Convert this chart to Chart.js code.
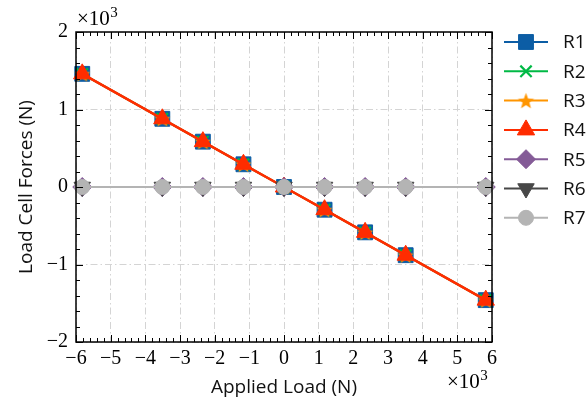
<!DOCTYPE html>
<html>
<head>
<meta charset="utf-8">
<script src="https://cdn.jsdelivr.net/npm/chart.js@4/dist/chart.umd.min.js"></script>
<style>
  html, body { margin: 0; padding: 0; background: #fff; }
  #wrap { width: 588px; height: 400px; }
</style>
</head>
<body>
<div id="wrap"><canvas id="chart" width="588" height="400"></canvas></div>
<script>
// applied load (N) and load cell readings (N) for each cell
const appliedLoad = [-5820, -3510, -2340, -1170, 0, 1170, 2340, 3510, 5820];
const r1 = [1460, 880, 585, 293, 0, -293, -585, -880, -1460];
const r2 = [1460, 880, 585, 293, 0, -293, -585, -880, -1460];
const r3 = [1460, 880, 585, 293, 0, -293, -585, -880, -1460];
const r4 = [1460, 880, 585, 293, 0, -293, -585, -880, -1460];
const r5 = [0, 0, 0, 0, 0, 0, 0, 0, 0];
const r6 = [0, 0, 0, 0, 0, 0, 0, 0, 0];
const r7 = [0, 0, 0, 0, 0, 0, 0, 0, 0];
const seriesNames = ["R1", "R2", "R3", "R4", "R5", "R6", "R7"];
const seriesValues = [r1, r2, r3, r4, r5, r6, r7];

const xMin = -6000, xMax = 6000, yMin = -2000, yMax = 2000;
const majorStep = 1000, minorStep = 200;

const serif = "'Liberation Serif', 'DejaVu Serif', serif";
const sans = "'Open Sans', 'DejaVu Sans', sans-serif";

// filled five-point star, used as a point style image
function starImage(color, r) {
    const c = document.createElement("canvas");
    const s = Math.ceil(r * 2 + 2);
    c.width = s;
    c.height = s;
    const g = c.getContext("2d");
    g.fillStyle = color;
    g.beginPath();
    for (let i = 0; i < 10; i++) {
        const rad = i % 2 === 0 ? r : r * 0.42;
        const a = -Math.PI / 2 + (i * Math.PI) / 5;
        const px = s / 2 + rad * Math.cos(a);
        const py = s / 2 + rad * Math.sin(a) + r * 0.1;
        if (i === 0) g.moveTo(px, py);
        else g.lineTo(px, py);
    }
    g.closePath();
    g.fill();
    return c;
}

const styles = [
    { color: "#0C5DA5", pointStyle: "rect", radius: 10.5, rotation: 0 },
    { color: "#00B945", pointStyle: "crossRot", radius: 8, rotation: 0 },
    { color: "#FF9500", pointStyle: starImage("#FF9500", 8.5), radius: 8, rotation: 0 },
    { color: "#FF2C00", pointStyle: "triangle", radius: 10, rotation: 0 },
    { color: "#845B97", pointStyle: "rectRot", radius: 9.5, rotation: 0 },
    { color: "#474747", pointStyle: "triangle", radius: 9.5, rotation: 180 },
    { color: "#b4b4b4", pointStyle: "circle", radius: 7.5, rotation: 0 },
];

const fmt = (v) => {
    const n = Math.round(v / 1000);
    return n < 0 ? "\u2212" + Math.abs(n) : String(n);
};

// inward major/minor ticks on all four sides, frame, multiplier labels, legend
const framePlugin = {
    id: "frame",
    afterDraw(chart) {
        const { ctx, chartArea: a, scales } = chart;
        const xs = scales.x, ys = scales.y;
        ctx.save();
        ctx.strokeStyle = "#000";
        ctx.lineWidth = 1;
        for (let v = xMin; v <= xMax; v += minorStep) {
            const px = Math.round(xs.getPixelForValue(v)) + 0.5;
            const len = v % majorStep === 0 ? 7 : 4;
            ctx.beginPath();
            ctx.moveTo(px, a.bottom);
            ctx.lineTo(px, a.bottom - len);
            ctx.moveTo(px, a.top);
            ctx.lineTo(px, a.top + len);
            ctx.stroke();
        }
        for (let v = yMin; v <= yMax; v += minorStep) {
            const py = Math.round(ys.getPixelForValue(v)) + 0.5;
            const len = v % majorStep === 0 ? 7 : 4;
            ctx.beginPath();
            ctx.moveTo(a.left, py);
            ctx.lineTo(a.left + len, py);
            ctx.moveTo(a.right, py);
            ctx.lineTo(a.right - len, py);
            ctx.stroke();
        }
        ctx.lineWidth = 1.5;
        ctx.strokeRect(a.left, a.top, a.right - a.left, a.bottom - a.top);

        // x10^3 multipliers
        const mult = (x, y) => {
            ctx.fillStyle = "#000";
            ctx.textBaseline = "alphabetic";
            ctx.textAlign = "left";
            ctx.font = "21px " + serif;
            ctx.fillText("\u00d710", x, y);
            const w = ctx.measureText("\u00d710").width;
            ctx.font = "15px " + serif;
            ctx.fillText("3", x + w + 0.5, y - 8);
        };
        mult(a.left + 1, a.top - 7);
        mult(a.right - 45, a.bottom + 46);

        // legend with line and marker
        const lx0 = a.right + 12, lx1 = a.right + 56, tx = a.right + 71;
        chart.data.datasets.forEach((ds, i) => {
            const y = a.top + 10 + i * 29.3;
            ctx.strokeStyle = ds.borderColor;
            ctx.lineWidth = 2;
            ctx.beginPath();
            ctx.moveTo(lx0, y);
            ctx.lineTo(lx1, y);
            ctx.stroke();
            ctx.fillStyle = ds.pointBackgroundColor;
            ctx.strokeStyle = ds.pointBorderColor;
            ctx.lineWidth = ds.pointBorderWidth;
            Chart.helpers.drawPoint(ctx, {
                pointStyle: ds.pointStyle,
                radius: ds.pointRadius,
                rotation: ds.pointRotation,
                borderWidth: ds.pointBorderWidth,
            }, (lx0 + lx1) / 2, y);
            ctx.fillStyle = "#111";
            ctx.font = "19px " + sans;
            ctx.textAlign = "left";
            ctx.textBaseline = "middle";
            ctx.fillText(ds.label, tx, y + 1);
        });
        ctx.restore();
    },
};

const datasets = seriesNames.map((name, i) => {
    const st = styles[i];
    return {
        label: name,
        data: appliedLoad.map((x, j) => ({ x: x, y: seriesValues[i][j] })),
        borderColor: st.color,
        backgroundColor: st.color,
        borderWidth: i === 3 ? 2.5 : 2,
        pointStyle: st.pointStyle,
        pointRadius: st.radius,
        pointRotation: st.rotation,
        pointBackgroundColor: st.color,
        pointBorderColor: st.color,
        pointBorderWidth: st.pointStyle === "crossRot" ? 2.2 : 1,
        order: seriesNames.length - i,
        tension: 0,
        clip: false,
    };
});

const gridOpts = {
    color: "#d4d4d4",
    lineWidth: 1,
    drawTicks: false,
};

new Chart(document.getElementById("chart"), {
    type: "line",
    data: { datasets: datasets },
    options: {
        responsive: false,
        animation: false,
        events: [],
        layout: { padding: { top: 32, right: 96, left: 0, bottom: 0 } },
        plugins: {
            legend: { display: false },
            tooltip: { enabled: false },
        },
        scales: {
            x: {
                type: "linear",
                min: xMin,
                max: xMax,
                afterFit: (s) => { s.height = 58; },
                ticks: {
                    stepSize: majorStep,
                    padding: 5,
                    color: "#000",
                    font: { family: serif, size: 20 },
                    callback: (v) => fmt(v),
                    maxRotation: 0,
                },
                grid: gridOpts,
                border: { display: false, dash: [7, 3, 1.5, 3] },
                title: {
                    display: true,
                    text: "Applied Load (N)",
                    color: "#111",
                    font: { family: sans, size: 19 },
                    padding: { top: 0, bottom: 1 },
                },
            },
            y: {
                type: "linear",
                min: yMin,
                max: yMax,
                afterFit: (s) => { s.width = 76; },
                ticks: {
                    stepSize: majorStep,
                    padding: 8,
                    color: "#000",
                    font: { family: serif, size: 20 },
                    callback: (v) => fmt(v),
                },
                grid: gridOpts,
                border: { display: false, dash: [7, 3, 1.5, 3] },
                title: {
                    display: true,
                    text: "Load Cell Forces (N)",
                    color: "#111",
                    font: { family: sans, size: 19 },
                    padding: { top: 15, bottom: 0 },
                },
            },
        },
    },
    plugins: [framePlugin],
});
</script>
</body>
</html>
